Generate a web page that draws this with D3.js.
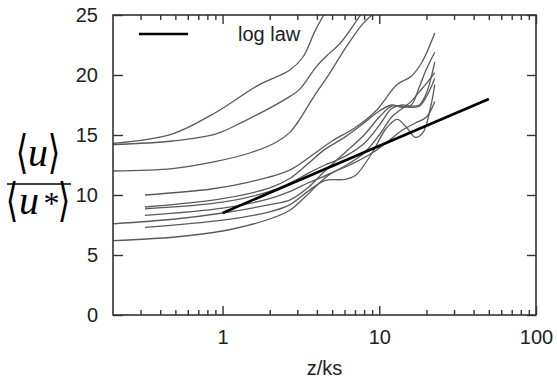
<!DOCTYPE html>
<html>
<head>
<meta charset="utf-8">
<script src="https://cdn.jsdelivr.net/npm/d3@7"></script>
<style>
  body { margin: 0; background: #fff; }
  svg { display: block; }
</style>
</head>
<body>
<svg id="graph" width="557" height="379"></svg>
<script>
// tick values
var xMajor = [1, 10, 100];
var xMinor = [0.3, 0.4, 0.5, 0.6, 0.7, 0.8, 0.9, 2, 3, 4, 5, 6, 7, 8, 9, 20, 30, 40, 50, 60, 70, 80, 90];
var yMajor = [0, 5, 10, 15, 20, 25];

// log law reference line
var logLaw = [[1, 8.5], [50, 18.0]];

var profA = [[0.2, 14.3], [0.48, 15.1], [0.91, 16.9], [1.72, 19.2], [2.68, 20.4], [3.26, 21.5], [3.9, 23.7], [4.7, 25.6]];
var profB = [[0.2, 14.2], [0.48, 14.5], [0.91, 15.1], [1.35, 16.1], [2.68, 18.2], [3.1, 18.8], [3.97, 20.7], [4.8, 21.8], [5.6, 22.6], [7.5, 24.9], [8.2, 25.6]];
var profC = [[0.2, 12.0], [0.48, 12.2], [0.91, 12.8], [1.49, 13.5], [2.2, 14.4], [2.68, 15.2], [3.0, 16.0], [3.78, 18.1], [4.8, 20.1], [6.2, 22.4], [7.9, 24.3], [10.2, 25.6]];
var profD = [[0.32, 10.0], [0.85, 10.5], [1.5, 11.1], [2.7, 12.1], [3.8, 13.4], [5, 14.5], [7, 15.6], [9.5, 17.0], [13, 19.2], [16, 19.9], [18.6, 21.0], [22.6, 23.5]];
var profE = [[0.32, 9.0], [1, 9.7], [2, 10.6], [2.7, 11.4], [3.5, 12.6], [4.5, 13.8], [6, 14.8], [8, 16.0], [10, 17.0], [12, 17.5], [14, 17.3], [16, 17.5], [18, 19.0], [20, 20.5], [22.6, 21.9]];
var profF = [[0.32, 8.85], [1, 9.4], [2, 10.3], [2.7, 11.0], [3.5, 11.8], [4.5, 12.5], [6, 13.2], [8, 14.3], [10, 15.8], [12, 17.2], [14, 17.5], [16, 17.4], [18, 17.5], [20, 18.5], [22.6, 21.1]];
var profG = [[0.32, 8.3], [1, 8.9], [2, 9.7], [2.7, 10.3], [3.5, 11.0], [4.5, 11.6], [6, 12.4], [8, 13.5], [10, 15.0], [12, 16.5], [14, 17.2], [16, 17.8], [18, 18.6], [20, 19.3], [22.6, 20.2]];
var profH = [[0.32, 7.3], [1, 7.9], [2, 8.6], [2.7, 9.2], [3.5, 10.3], [4.5, 11.2], [6, 11.3], [7, 11.6], [9, 13.5], [11, 15.5], [13, 16.3], [15, 15.6], [17, 14.8], [19, 15.2], [21, 17.0], [22.6, 19.2]];
var profI = [[0.2, 7.6], [0.5, 8.0], [1, 8.5], [2, 9.2], [2.7, 9.6], [3.5, 10.6], [4.5, 12.0], [6, 13.5], [8, 15.0], [10, 16.5], [12, 17.4], [14, 17.4], [16, 17.3], [18, 17.4], [20, 18.2], [22.6, 19.7]];
var profJ = [[0.2, 6.2], [0.5, 6.5], [1, 7.0], [2, 8.0], [2.7, 8.75], [3.4, 9.9], [4.8, 11.7], [6.5, 12.5], [9, 13.5], [11.7, 14.6], [14, 15.4], [17, 16.0], [20, 16.5], [22.6, 17.8]];

var profiles = [profA, profB, profC, profD, profE, profF, profG, profH, profI, profJ];

var plotLeft = 113, plotRight = 536, plotTop = 15, plotBottom = 315;

var fig = d3.select("#graph");

var x = d3.scaleLog().domain([0.2, 100]).range([plotLeft, plotRight]);
var y = d3.scaleLinear().domain([0, 25]).range([plotBottom, plotTop]);

fig.append("defs").append("clipPath").attr("id", "plotclip")
    .append("rect")
    .attr("x", plotLeft).attr("y", plotTop)
    .attr("width", plotRight - plotLeft).attr("height", plotBottom - plotTop);

var line = d3.line()
    .x(function(d) { return x(d[0]); })
    .y(function(d) { return y(d[1]); })
    .curve(d3.curveCatmullRom.alpha(0.5));

var plot = fig.append("g").attr("clip-path", "url(#plotclip)");

plot.selectAll(".profile")
    .data(profiles)
    .enter().append("path")
    .attr("class", "profile")
    .attr("d", line)
    .attr("fill", "none")
    .attr("stroke", "#5a5a5a")
    .attr("stroke-width", 1.3);

plot.append("path")
    .attr("d", d3.line().x(function(d) { return x(d[0]); }).y(function(d) { return y(d[1]); })(logLaw))
    .attr("fill", "none")
    .attr("stroke", "#000")
    .attr("stroke-width", 2.6);

// axes, ticks point inward on all four sides
var axisStyle = function(g) {
    g.select(".domain").remove();
    g.selectAll("line").attr("stroke", "#333").attr("stroke-width", 1.4);
    g.selectAll("text")
        .attr("font-family", "Liberation Sans, Arial, sans-serif")
        .attr("font-size", 20)
        .attr("fill", "#222");
};

fig.append("g").attr("transform", "translate(0," + plotBottom + ")")
    .call(d3.axisBottom(x).tickValues(xMajor).tickSize(-9).tickPadding(15).tickFormat(d3.format("d")))
    .call(axisStyle);
fig.append("g").attr("transform", "translate(0," + plotBottom + ")")
    .call(d3.axisBottom(x).tickValues(xMinor).tickSize(-5).tickFormat(""))
    .call(axisStyle);
fig.append("g").attr("transform", "translate(0," + plotTop + ")")
    .call(d3.axisTop(x).tickValues(xMajor).tickSize(-9).tickFormat(""))
    .call(axisStyle);
fig.append("g").attr("transform", "translate(0," + plotTop + ")")
    .call(d3.axisTop(x).tickValues(xMinor).tickSize(-5).tickFormat(""))
    .call(axisStyle);
fig.append("g").attr("transform", "translate(" + plotLeft + ",0)")
    .call(d3.axisLeft(y).tickValues(yMajor).tickSize(-10).tickPadding(15))
    .call(axisStyle);
fig.append("g").attr("transform", "translate(" + plotRight + ",0)")
    .call(d3.axisRight(y).tickValues(yMajor).tickSize(-9).tickFormat(""))
    .call(axisStyle);

// frame
fig.append("rect")
    .attr("x", plotLeft).attr("y", plotTop)
    .attr("width", plotRight - plotLeft).attr("height", plotBottom - plotTop)
    .attr("fill", "none")
    .attr("stroke", "#333")
    .attr("stroke-width", 1.6);

// legend
fig.append("line")
    .attr("x1", 139).attr("x2", 188).attr("y1", 34).attr("y2", 34)
    .attr("stroke", "#000").attr("stroke-width", 2.6);
fig.append("text")
    .attr("x", 238).attr("y", 41)
    .attr("font-family", "Liberation Sans, Arial, sans-serif")
    .attr("font-size", 20)
    .attr("fill", "#222")
    .text("log law");

// x axis title
fig.append("text")
    .attr("x", (plotLeft + plotRight) / 2).attr("y", 375)
    .attr("text-anchor", "middle")
    .attr("font-family", "Liberation Sans, Arial, sans-serif")
    .attr("font-size", 20)
    .attr("fill", "#222")
    .text("z/ks");

// y axis title as a fraction <u> / <u*>
var ylab = fig.append("g").attr("fill", "#000").attr("text-anchor", "middle");
var bracket = function(cx, cy, ch) {
    ylab.append("text")
        .attr("transform", "translate(" + cx + "," + cy + ") scale(0.7,1)")
        .attr("font-family", "DejaVu Serif, serif")
        .attr("font-weight", 300)
        .attr("font-size", 46)
        .text(ch);
};
var italic = function(cx, cy, ch, size) {
    ylab.append("text")
        .attr("x", cx).attr("y", cy)
        .attr("font-family", "Liberation Serif, serif")
        .attr("font-style", "italic")
        .attr("font-size", size)
        .text(ch);
};
bracket(22, 168, "\u27E8");
italic(38, 166, "u", 40);
bracket(54, 168, "\u27E9");
ylab.append("line")
    .attr("x1", 7).attr("x2", 71).attr("y1", 184).attr("y2", 184)
    .attr("stroke", "#000").attr("stroke-width", 1.6);
bracket(12, 216, "\u27E8");
italic(29, 214, "u", 40);
italic(50, 214, "*", 32);
bracket(64, 216, "\u27E9");
</script>
</body>
</html>
